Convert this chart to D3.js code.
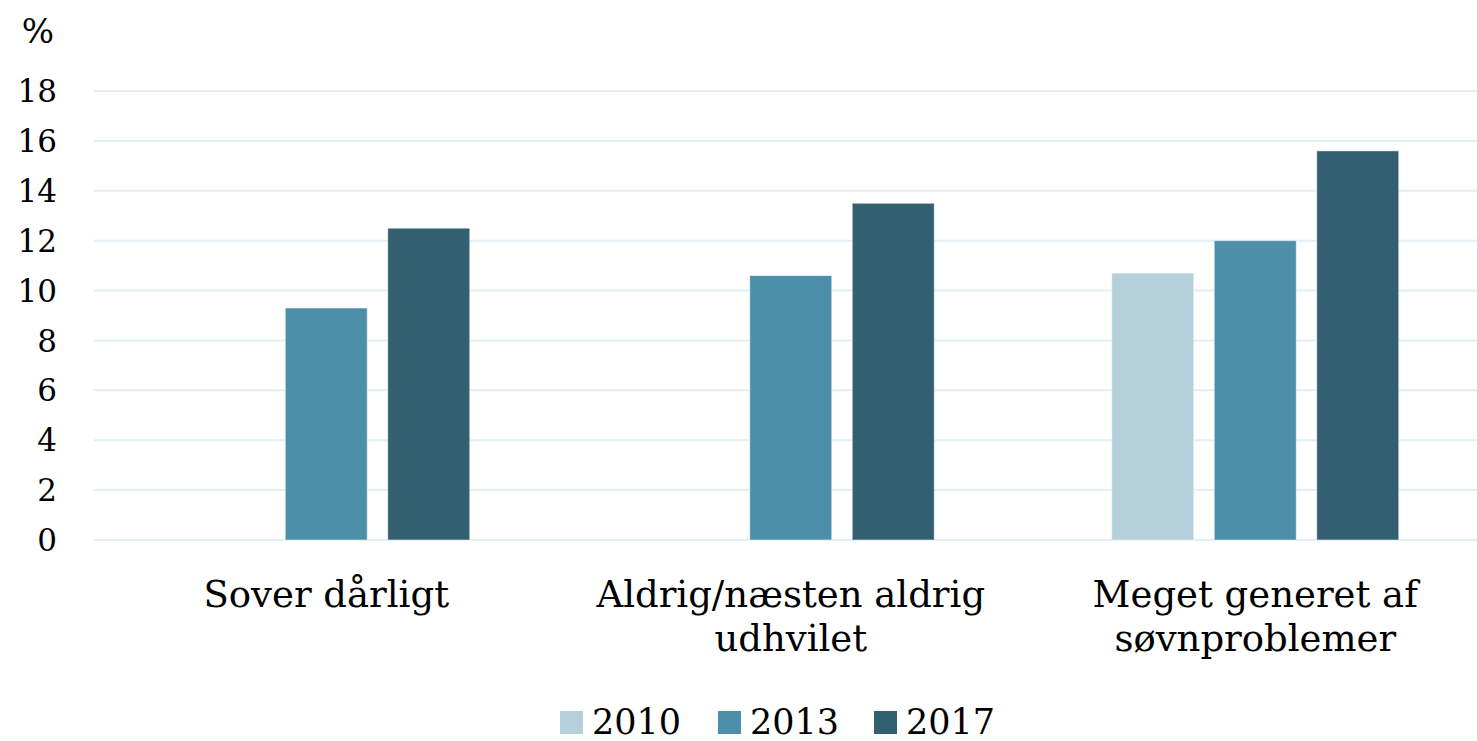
<!DOCTYPE html>
<html><head><meta charset="utf-8">
<script src="https://cdn.jsdelivr.net/npm/d3@7"></script>
<style>body{margin:0;background:#fff}svg{display:block}text{font-family:"DejaVu Serif","Liberation Serif",serif;fill:#000}</style>
</head><body><svg id="c" width="1477" height="741"></svg>
<script>
const categories = [["Sover dårligt"], ["Aldrig/næsten aldrig", "udhvilet"], ["Meget generet af", "søvnproblemer"]];
const series = ["2010", "2013", "2017"];
const values2010 = [null, null, 10.7];
const values2013 = [9.3, 10.6, 12.0];
const values2017 = [12.5, 13.5, 15.6];
const yTicks = [0, 2, 4, 6, 8, 10, 12, 14, 16, 18];
const colors = ["#b3d0db", "#4d8faa", "#336070"];
const seriesValues = [values2010, values2013, values2017];

const svg = d3.select("#c");
const x0 = d3.scaleBand().domain(d3.range(categories.length)).range([94, 1487.5]);
const x1 = d3.scaleBand().domain(series).range([88.75, x0.bandwidth() - 88.75]).paddingInner(0.2);
const y = d3.scaleLinear().domain([0, 18]).range([540, 91]);

// gridlines
svg.append("g").selectAll("line").data(yTicks).join("line")
  .attr("x1", 94).attr("x2", 1477)
  .attr("y1", d => y(d)).attr("y2", d => y(d))
  .attr("stroke", "#e2eff5").attr("stroke-width", 2);

// y tick labels
svg.append("g").selectAll("text").data(yTicks).join("text")
  .attr("x", 57).attr("y", d => y(d)).attr("dy", "0.36em")
  .attr("text-anchor", "end").style("font-size", "31px").text(d => d);
svg.append("text").attr("x", 38).attr("y", 43).attr("text-anchor", "middle")
  .style("font-size", "34px").text("%");

// bars
const g = svg.append("g");
series.forEach((s, si) => {
  g.append("g").selectAll("rect")
    .data(seriesValues[si].map((v, i) => ({v, i})).filter(d => d.v != null))
    .join("rect")
    .attr("x", d => x0(d.i) + x1(s))
    .attr("width", x1.bandwidth())
    .attr("y", d => y(d.v))
    .attr("height", d => y(0) - y(d.v))
    .attr("fill", colors[si])
    .attr("stroke", "#ffffff").attr("stroke-opacity", 0.5).attr("stroke-width", 1);
});

// category labels
const cl = svg.append("g").selectAll("text").data(categories).join("text")
  .attr("text-anchor", "middle").style("font-size", "37px")
  .attr("transform", (d, i) => `translate(${x0(i) + x0.bandwidth() / 2},607)`);
cl.selectAll("tspan").data(d => d).join("tspan")
  .attr("x", 0).attr("y", (d, j) => j * 44).text(d => d);

// legend
const legX = [560, 718, 874];
const lg = svg.append("g").selectAll("g").data(series).join("g")
  .attr("transform", (d, i) => `translate(${legX[i]},711)`);
lg.append("rect").attr("width", 23).attr("height", 23).attr("fill", (d, i) => colors[i]);
lg.append("text").attr("x", 32).attr("y", 23).style("font-size", "35px").text(d => d);
</script></body></html>
